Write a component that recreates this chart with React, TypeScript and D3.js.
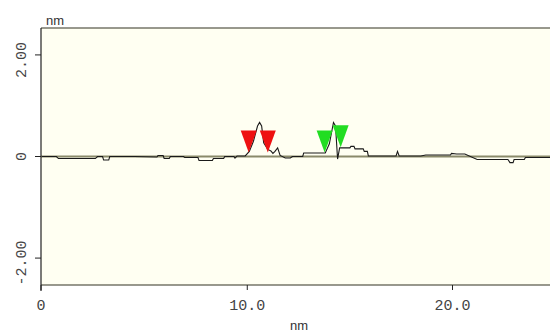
import { useMemo } from 'react';
import * as d3 from 'd3';

const WIDTH = 550;
const HEIGHT = 333;

// profile of height (nm) against distance (nm)
const profile: [number, number][] = [
    [0, 0], [0.7, 0], [0.8, -0.04], [2.6, -0.04], [2.7, 0], [2.95, 0], [3.0, -0.07],
    [3.25, -0.07], [3.3, 0], [4.5, 0], [5.6, -0.01], [5.65, 0.02], [5.9, 0.02],
    [5.95, -0.04], [6.2, -0.04], [6.25, 0], [6.9, 0], [6.95, -0.02], [7.6, -0.02],
    [7.65, -0.08], [8.3, -0.08], [8.35, -0.04], [8.85, -0.04], [8.9, 0], [9.35, 0],
    [9.4, -0.03], [9.5, 0.01], [9.9, 0.01], [10.1, 0.1], [10.3, 0.3], [10.5, 0.6],
    [10.6, 0.67], [10.7, 0.6], [10.8, 0.27], [11.0, 0.14], [11.15, 0.11], [11.25, 0.06],
    [11.35, 0.1], [11.48, 0.17], [11.6, 0.02], [11.85, -0.03], [12.1, -0.03], [12.2, 0],
    [12.7, 0], [12.75, 0.07], [13.8, 0.07], [14.0, 0.25], [14.2, 0.67], [14.3, 0.6],
    [14.4, -0.05], [14.5, 0.17], [15.0, 0.17], [15.05, 0.2], [15.2, 0.2], [15.25, 0.15],
    [15.65, 0.15], [15.7, 0.1], [15.85, 0.1], [15.9, 0.01], [17.25, 0.01], [17.32, 0.1],
    [17.4, 0.01], [18.45, 0.01], [18.7, 0.03], [19.9, 0.03], [19.95, 0.06], [20.2, 0.05],
    [20.6, 0.05], [21.2, -0.06], [22.7, -0.06], [22.8, -0.12], [22.95, -0.12],
    [23.0, -0.06], [23.5, -0.06], [23.55, -0.02], [24.8, -0.02],
];

// cursor markers (x nm, y nm)
const redMarkers: [number, number][] = [[10.07, 0.08], [11.0, 0.08]];
const greenMarkers: [number, number][] = [[13.77, 0.08], [14.55, 0.18]];

const yTicks = [2, 0, -2];
const yTickLabels = ['2.00', '0', '-2.00'];
const xTicks = [0, 10, 20];
const xTickLabels = ['0', '10.0', '20.0'];

const margin = { left: 41, top: 28, right: 0, bottom: 48 };
const MONO = '"Liberation Mono", "DejaVu Sans Mono", monospace';
const SANS = '"Liberation Sans", Arial, sans-serif';

export default function App() {
    const x = useMemo(
        () => d3.scaleLinear().domain([-0.05, 24.75]).range([margin.left, WIDTH - margin.right]),
        []
    );
    const y = useMemo(
        () => d3.scaleLinear().domain([-2.53, 2.53]).range([HEIGHT - margin.bottom, margin.top]),
        []
    );
    const line = d3
        .line<[number, number]>()
        .x((d) => x(d[0]))
        .y((d) => y(d[1]));

    const bottom = HEIGHT - margin.bottom;
    const tri = (d: [number, number], fill: string, i: number) => {
        const cx = x(d[0]);
        const cy = y(d[1]);
        return (
            <path
                key={i}
                d={`M${cx - 8},${cy - 22}L${cx + 8},${cy - 22}L${cx},${cy}Z`}
                fill={fill}
            />
        );
    };

    return (
        <svg
            width={WIDTH}
            height={HEIGHT}
            style={{ position: 'absolute', left: 0, top: 0, background: '#fff' }}
        >
            <rect
                x={margin.left}
                y={margin.top}
                width={WIDTH - margin.left}
                height={bottom - margin.top}
                fill="#fffff2"
            />
            <line x1={margin.left} x2={WIDTH} y1={y(0)} y2={y(0)} stroke="#8a8a6a" strokeWidth={2} />
            <path d={line(profile) ?? ''} fill="none" stroke="#1a1a1a" strokeWidth={1.1} />
            {redMarkers.map((d, i) => tri(d, '#ee1111', i))}
            {greenMarkers.map((d, i) => tri(d, '#22dd22', i + 10))}

            {/* frame */}
            <line x1={margin.left} x2={WIDTH} y1={margin.top} y2={margin.top} stroke="#333322" strokeWidth={1.2} />
            <line x1={margin.left} x2={WIDTH} y1={bottom} y2={bottom} stroke="#333322" strokeWidth={1.2} />
            <line x1={margin.left} x2={margin.left} y1={margin.top} y2={bottom + 6} stroke="#222" strokeWidth={1.2} />

            {yTicks.map((t, i) => (
                <g key={t} transform={`translate(${margin.left}, ${y(t)})`}>
                    <line x1={-6} x2={0} stroke="#222" />
                    <text
                        transform={`translate(-20, ${t === 0 ? 0 : 5}) rotate(-90)`}
                        textAnchor="middle"
                        dy="0.35em"
                        fontFamily={MONO}
                        fontSize={15}
                        fill="#444"
                    >
                        {yTickLabels[i]}
                    </text>
                </g>
            ))}
            {xTicks.map((t, i) => (
                <g key={t} transform={`translate(${i === 0 ? margin.left : x(t)}, ${bottom})`}>
                    <line y1={0} y2={5} stroke="#222" />
                    <text y={25} textAnchor="middle" fontFamily={MONO} fontSize={15} fill="#444">
                        {xTickLabels[i]}
                    </text>
                </g>
            ))}
            <text x={299} y={330} textAnchor="middle" fontFamily={SANS} fontSize={13} fill="#333">
                nm
            </text>
            <text x={55} y={25} textAnchor="middle" fontFamily={SANS} fontSize={13} fill="#333">
                nm
            </text>
        </svg>
    );
}
